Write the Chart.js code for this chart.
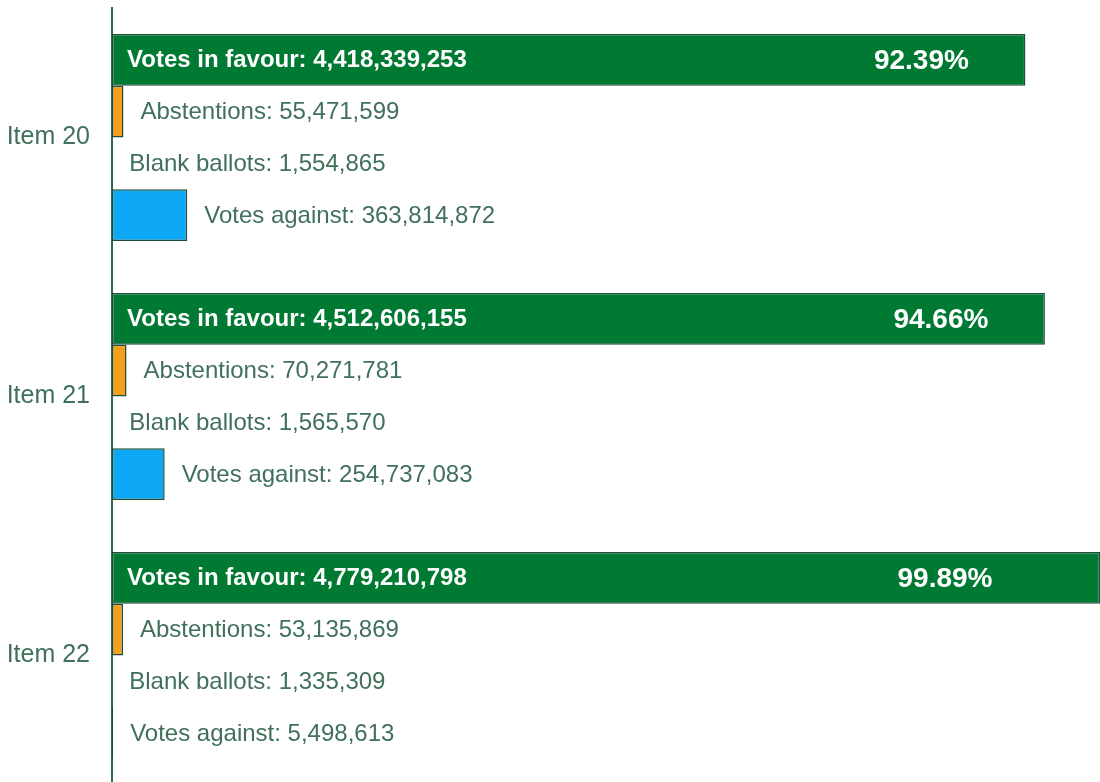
<!DOCTYPE html>
<html>
<head>
<meta charset="utf-8">
<script src="https://cdn.jsdelivr.net/npm/chart.js@4.4.1/dist/chart.umd.min.js"></script>
<style>
  html, body { margin: 0; padding: 0; background: #ffffff; overflow: hidden; }
  #wrap { width: 1100px; height: 790px; position: relative; }
</style>
</head>
<body>
<div id="wrap"><canvas id="c"></canvas></div>
<script>
const categories = ['Item 20', 'Item 21', 'Item 22'];
const votesInFavour = [4418339253, 4512606155, 4779210798];
const abstentions = [55471599, 70271781, 53135869];
const blankBallots = [1554865, 1565570, 1335309];
const votesAgainst = [363814872, 254737083, 5498613];
const favourPercent = ['92.39%', '94.66%', '99.89%'];
const seriesNames = ['Votes in favour', 'Abstentions', 'Blank ballots', 'Votes against'];

const TEXT = '#41705b';
const FONT = '"Liberation Sans", Arial, sans-serif';
const fmt = v => v.toLocaleString('en-US');

const labelPlugin = {
  id: 'barLabels',
  afterDatasetsDraw(chart) {
    const ctx = chart.ctx;
    ctx.save();
    ctx.textBaseline = 'middle';
    chart.data.datasets.forEach((ds, di) => {
      const meta = chart.getDatasetMeta(di);
      meta.data.forEach((bar, i) => {
        const val = ds.data[i];
        const text = seriesNames[di] + ': ' + fmt(val);
        if (di === 0) {
          ctx.fillStyle = '#ffffff';
          ctx.font = 'bold 24px ' + FONT;
          ctx.textAlign = 'left';
          ctx.fillText(text, bar.base + 15, bar.y + 1);
          ctx.font = 'bold 28px ' + FONT;
          ctx.textAlign = 'center';
          const cx = Math.min(bar.x - 104, 945);
          ctx.fillText(favourPercent[i], cx, bar.y + 1);
        } else {
          ctx.fillStyle = TEXT;
          ctx.font = '24px ' + FONT;
          ctx.textAlign = 'left';
          ctx.fillText(text, bar.x + 17, bar.y + 1);
        }
      });
    });
    ctx.restore();
  }
};

new Chart(document.getElementById('c'), {
  type: 'bar',
  data: {
    labels: categories,
    datasets: [
      { label: seriesNames[0], data: votesInFavour, backgroundColor: '#007a33', borderColor: '#1d4f38' },
      { label: seriesNames[1], data: abstentions, backgroundColor: '#f59f1c', borderColor: '#1d4f38' },
      { label: seriesNames[2], data: blankBallots, backgroundColor: '#9e9e9e', borderColor: '#1d4f38' },
      { label: seriesNames[3], data: votesAgainst, backgroundColor: '#0da8f5', borderColor: '#1d4f38' }
    ]
  },
  options: {
    indexAxis: 'y',
    responsive: true,
    maintainAspectRatio: false,
    animation: false,
    datasets: { bar: { categoryPercentage: 0.8, barPercentage: 1.0, borderWidth: 1.5, borderSkipped: false } },
    layout: { padding: { top: 8, bottom: 5, left: 0, right: 0 } },
    plugins: { legend: { display: false }, tooltip: { enabled: false } },
    scales: {
      x: {
        display: false,
        min: 0,
        max: Math.max(...votesInFavour)
      },
      y: {
        grid: { display: false, drawTicks: false },
        border: { display: true, color: '#2d6a4f', width: 2 },
        ticks: { color: TEXT, font: { family: FONT, size: 25 }, padding: 22 },
        afterFit(scale) { scale.width = 112; scale.paddingTop = 0; scale.paddingBottom = 0; }
      }
    }
  },
  plugins: [labelPlugin]
});
</script>
</body>
</html>
